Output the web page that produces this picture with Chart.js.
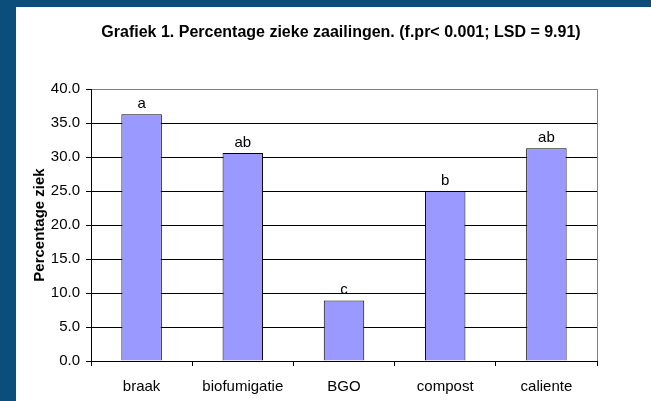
<!DOCTYPE html>
<html>
<head>
<meta charset="utf-8">
<script src="https://cdn.jsdelivr.net/npm/chart.js@4/dist/chart.umd.min.js"></script>
<style>
  html, body { margin: 0; padding: 0; width: 651px; height: 401px; overflow: hidden; background: #0B4E7C; }
  #wrap { position: absolute; left: 16px; top: 7px; width: 635px; height: 394px; background: #ffffff; }
  canvas { display: block; }
</style>
</head>
<body>
<div id="wrap"><canvas id="c" width="635" height="394"></canvas></div>
<script>
const categories = ['braak', 'biofumigatie', 'BGO', 'compost', 'caliente'];
const values = [36.3, 30.6, 8.9, 25.0, 31.3];
const groupLetters = ['a', 'ab', 'c', 'b', 'ab'];
const chartTitle = 'Grafiek 1. Percentage zieke zaailingen. (f.pr< 0.001; LSD = 9.91)';
const yAxisTitle = 'Percentage ziek';

const FONT = '"Liberation Sans", Arial, sans-serif';

const letterPlugin = {
  id: 'letters',
  afterDatasetsDraw(chart) {
    const ctx = chart.ctx;
    const meta = chart.getDatasetMeta(0);
    ctx.save();
    ctx.font = '15px ' + FONT;
    ctx.fillStyle = '#000';
    ctx.textAlign = 'center';
    ctx.textBaseline = 'alphabetic';
    meta.data.forEach((bar, i) => {
      ctx.fillText(groupLetters[i], bar.x, bar.y - 6);
    });
    ctx.restore();
  }
};

const titlePlugin = {
  id: 'customTitle',
  afterDraw(chart) {
    const ctx = chart.ctx;
    ctx.save();
    ctx.font = 'bold 16px ' + FONT;
    ctx.fillStyle = '#000';
    ctx.textAlign = 'center';
    ctx.textBaseline = 'middle';
    ctx.fillText(chartTitle, 325, 26);
    ctx.restore();
  }
};

const framePlugin = {
  id: 'frame',
  afterDraw(chart) {
    const a = chart.chartArea;
    const ctx = chart.ctx;
    ctx.save();
    ctx.strokeStyle = '#808080';
    ctx.lineWidth = 1;
    ctx.beginPath();
    ctx.moveTo(Math.round(a.right) + 0.5, Math.round(a.top));
    ctx.lineTo(Math.round(a.right) + 0.5, Math.round(a.bottom));
    ctx.stroke();
    ctx.restore();
  }
};

new Chart(document.getElementById('c'), {
  type: 'bar',
  data: {
    labels: categories,
    datasets: [{
      data: values,
      backgroundColor: '#9999FF',
      borderColor: '#000000',
      borderWidth: 1,
      categoryPercentage: 1.0,
      barPercentage: 0.4
    }]
  },
  options: {
    responsive: false,
    devicePixelRatio: 1,
    animation: false,
    layout: { padding: { left: 0, right: 54, top: 82, bottom: 0 } },
    plugins: {
      legend: { display: false },
      tooltip: { enabled: false },
      title: { display: false }
    },
    scales: {
      x: {
        afterFit(scale) { scale.height = 40; },
        grid: {
          offset: true,
          drawOnChartArea: false,
          drawTicks: true,
          tickLength: 5,
          color: '#000'
        },
        border: { display: true, color: '#000', width: 1 },
        ticks: {
          color: '#000',
          padding: 12,
          font: { family: FONT, size: 15 },
          maxRotation: 0
        }
      },
      y: {
        min: 0,
        max: 40,
        afterFit(scale) { scale.width = 75; },
        grid: {
          color: (ctx) => (ctx.tick && ctx.tick.value === 40 ? '#808080' : '#000'),
          tickColor: '#000',
          drawTicks: true,
          tickLength: 5,
          lineWidth: 1
        },
        border: { display: true, color: '#000', width: 1 },
        ticks: {
          stepSize: 5,
          color: '#000',
          padding: 6,
          font: { family: FONT, size: 15 },
          callback: (v) => Number(v).toFixed(1)
        },
        title: {
          display: true,
          text: yAxisTitle,
          color: '#000',
          font: { family: FONT, size: 15, weight: 'bold', lineHeight: 1.2 },
          padding: { top: 15, bottom: 0 }
        }
      }
    }
  },
  plugins: [letterPlugin, titlePlugin, framePlugin]
});
</script>
</body>
</html>
